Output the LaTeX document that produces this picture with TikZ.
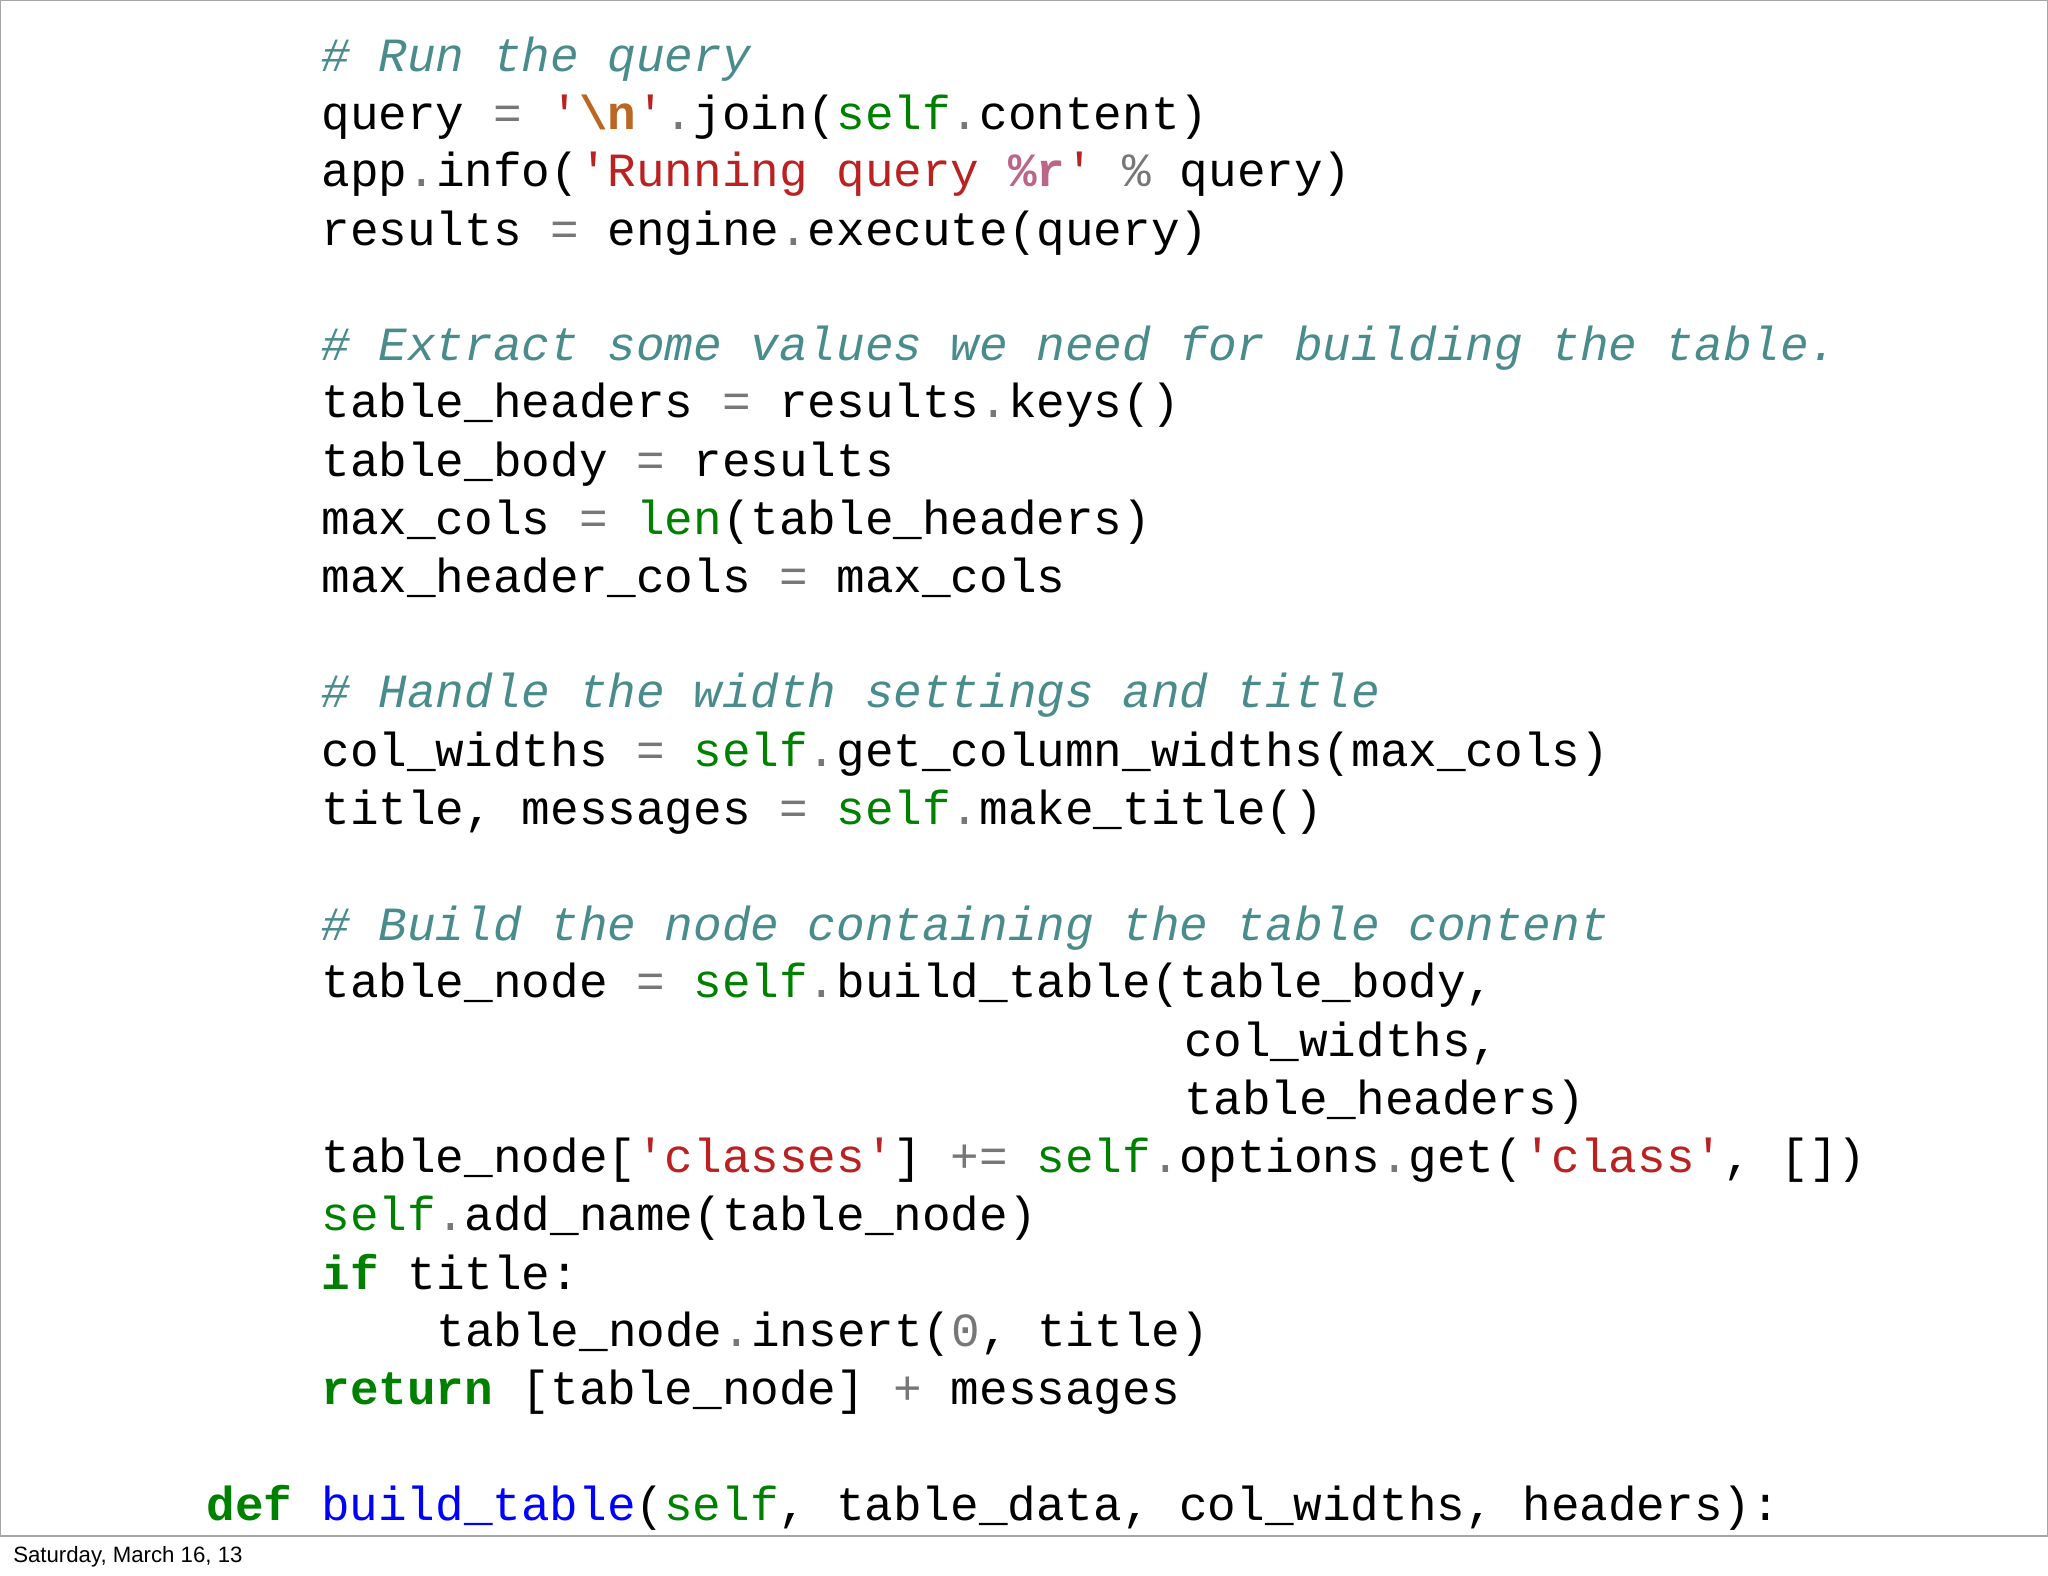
\documentclass[tikz,border=0pt]{standalone}
\usepackage{fontspec}
\setmainfont{Liberation Sans}
\setmonofont{Liberation Mono}
\definecolor{cmt}{HTML}{4A8C8C}
\definecolor{kwd}{HTML}{008000}
\definecolor{str}{HTML}{BA2121}
\definecolor{opc}{HTML}{777777}
\definecolor{esc}{HTML}{BB6622}
\definecolor{fmt}{HTML}{BB6688}
\definecolor{fnc}{HTML}{0000FF}
\newcommand{\Cm}[1]{\textcolor{cmt}{\itshape #1}}
\newcommand{\Kw}[1]{\textcolor{kwd}{\bfseries #1}}
\newcommand{\Sl}{\textcolor{kwd}{self}}
\newcommand{\St}[1]{\textcolor{str}{#1}}
\newcommand{\Op}[1]{\textcolor{opc}{#1}}
\newcommand{\Q}{\char"27\relax}
\newcommand{\U}{\_}
\begin{document}
\begin{tikzpicture}[x=1pt,y=-1pt,
  code/.style={anchor=base west,inner sep=0pt,font=\ttfamily\fontsize{36.5}{44}\selectfont}]
\useasboundingbox (0,0) rectangle (1568,1206);
\draw[gray!70,line width=1pt] (0.5,0.5) rectangle (1567.5,1176);
\node[code] (l1) at (246,55) {\Cm{\# Run the query}};
\node[code] (l2) at (246,99) {query \Op{=} \St{\Q}\textcolor{esc}{\bfseries\textbackslash n}\St{\Q}\Op{.}join(\Sl\Op{.}content)};
\node[code] (l3) at (246,143) {app\Op{.}info(\St{\Q Running query }\textcolor{fmt}{\bfseries\%r}\St{\Q} \Op{\%} query)};
\node[code] (l4) at (246,188) {results \Op{=} engine\Op{.}execute(query)};
\node[code] (l6) at (246,276) {\Cm{\# Extract some values we need for building the table.}};
\node[code] (l7) at (246,320) {table\U headers \Op{=} results\Op{.}keys()};
\node[code] (l8) at (246,365) {table\U body \Op{=} results};
\node[code] (l9) at (246,409) {max\U cols \Op{=} \textcolor{kwd}{len}(table\U headers)};
\node[code] (l10) at (246,454) {max\U header\U cols \Op{=} max\U cols};
\node[code] (l12) at (246,542) {\Cm{\# Handle the width settings and title}};
\node[code] (l13) at (246,587) {col\U widths \Op{=} \Sl\Op{.}get\U column\U widths(max\U cols)};
\node[code] (l14) at (246,631) {title, messages \Op{=} \Sl\Op{.}make\U title()};
\node[code] (l16) at (246,720) {\Cm{\# Build the node containing the table content}};
\node[code] (l17) at (246,764) {table\U node \Op{=} \Sl\Op{.}build\U table(table\U body,};
\node[code] (l18) at (907,809) {col\U widths,};
\node[code] (l19) at (907,853) {table\U headers)};
\node[code] (l20) at (246,898) {table\U node[\St{\Q classes\Q}] \Op{+=} \Sl\Op{.}options\Op{.}get(\St{\Q class\Q}, [])};
\node[code] (l21) at (246,942) {\Sl\Op{.}add\U name(table\U node)};
\node[code] (l22) at (246,987) {\Kw{if} title:};
\node[code] (l23) at (334,1031) {table\U node\Op{.}insert(\Op{0}, title)};
\node[code] (l24) at (246,1075) {\Kw{return} [table\U node] \Op{+} messages};
\node[code] (l26) at (158,1164) {\Kw{def} \textcolor{fnc}{build\U table}(\Sl, table\U data, col\U widths, headers):};
\node[anchor=base west,inner sep=0pt,font=\fontsize{17}{20}\selectfont] (foot) at (10,1196) {Saturday, March 16, 13};
\end{tikzpicture}
\end{document}
